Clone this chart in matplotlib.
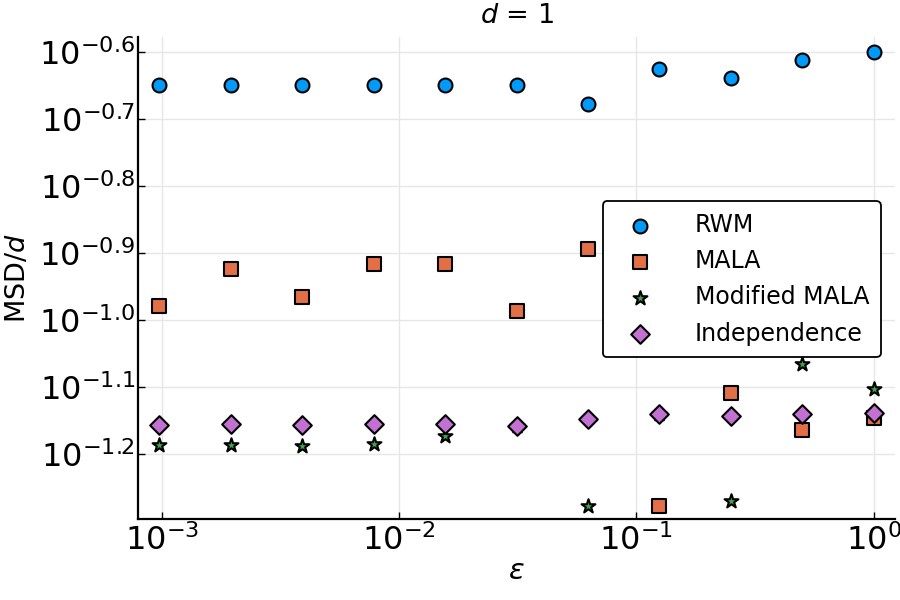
import numpy as np
import matplotlib
matplotlib.use("Agg")
import matplotlib.pyplot as plt
from matplotlib.ticker import FixedLocator, FixedFormatter, NullLocator

# Data
epsilon = [2.0**-10, 2.0**-9, 2.0**-8, 2.0**-7, 2.0**-6, 2.0**-5,
           2.0**-4, 2.0**-3, 2.0**-2, 2.0**-1, 1.0]
rwm = [0.2244, 0.2244, 0.2244, 0.2244, 0.2244, 0.2244,
       0.2099, 0.2366, 0.2296, 0.2443, 0.2512]
mala = [0.1047, 0.1191, 0.1081, 0.1211, 0.1211, 0.1030,
        0.1276, 0.0528, 0.0778, 0.0684, 0.0713]
modified_mala = [0.0650, 0.0650, 0.0649, 0.0653, 0.0670, 0.0693,
                 0.0528, 0.0723, 0.0536, 0.0859, 0.0787]
independence = [0.0697, 0.0700, 0.0697, 0.0698, 0.0698, 0.0693,
                0.0711, 0.0723, 0.0718, 0.0724, 0.0726]

x_ticks = [1e-3, 1e-2, 1e-1, 1e0]
x_tick_labels = [r"$10^{-3}$", r"$10^{-2}$", r"$10^{-1}$", r"$10^{0}$"]
y_tick_exps = [-0.6, -0.7, -0.8, -0.9, -1.0, -1.1, -1.2]
y_tick_labels = [r"$10^{-0.6}$", r"$10^{-0.7}$", r"$10^{-0.8}$", r"$10^{-0.9}$",
                 r"$10^{-1.0}$", r"$10^{-1.1}$", r"$10^{-1.2}$"]

plt.rcParams['font.family'] = ['DejaVu Sans']
plt.rcParams['mathtext.fontset'] = 'dejavusans'

fig = plt.figure(figsize=(9, 6), dpi=100)
ax = fig.add_axes([138/900, 1-519/600, (895-138)/900, (519-37)/600])

ax.set_xscale('log')
ax.set_yscale('log')

kw = dict(edgecolors='black', linewidths=1.5, zorder=3)
ax.scatter(epsilon, rwm, marker='o', s=100, color='#009AFA', label='RWM', **kw)
ax.scatter(epsilon, mala, marker='s', s=90, color='#E36F47', label='MALA', **kw)
ax.scatter(epsilon, modified_mala, marker='*', s=110, color='#3EA44E',
           label='Modified MALA', **kw)
ax.scatter(epsilon, independence, marker='D', s=90, color='#C271D2',
           label='Independence', **kw)

ax.set_xlim(10**-3.1006, 10**0.0903)
ax.set_ylim(10**-1.2975, 10**-0.5776)

ax.xaxis.set_major_locator(FixedLocator(x_ticks))
ax.xaxis.set_major_formatter(FixedFormatter(x_tick_labels))
ax.xaxis.set_minor_locator(NullLocator())
ax.yaxis.set_major_locator(FixedLocator([10**e for e in y_tick_exps]))
ax.yaxis.set_major_formatter(FixedFormatter(y_tick_labels))
ax.yaxis.set_minor_locator(NullLocator())

ax.tick_params(axis='both', which='major', direction='in', length=5, width=1,
               labelsize=23)
ax.tick_params(axis='y', pad=2)
ax.tick_params(axis='x', pad=4)
ax.grid(True, color='#e6e6e6', linewidth=1, zorder=0)
ax.set_axisbelow(True)

for s in ['top', 'right']:
    ax.spines[s].set_visible(False)
for s in ['left', 'bottom']:
    ax.spines[s].set_linewidth(1.6)

ax.set_xlabel(r"$\varepsilon$", fontsize=21, labelpad=0)
ax.set_ylabel(r"MSD/$d$", fontsize=19.5, labelpad=6)
fig.text((138+895)/2/900, 1-16/600, r"$d$ = 1", fontsize=19.5,
         ha='center', va='center')

leg = ax.legend(loc='upper right', bbox_to_anchor=(881/900, 1-201/600),
                bbox_transform=fig.transFigure, fontsize=17, borderaxespad=0,
                frameon=True, fancybox=True, edgecolor='black',
                handletextpad=1.2, borderpad=0.5, labelspacing=0.52,
                handlelength=2.2, scatterpoints=1)
leg.get_frame().set_linewidth(1.3)
leg.get_frame().set_alpha(1)

fig.savefig('out.png', dpi=100)
